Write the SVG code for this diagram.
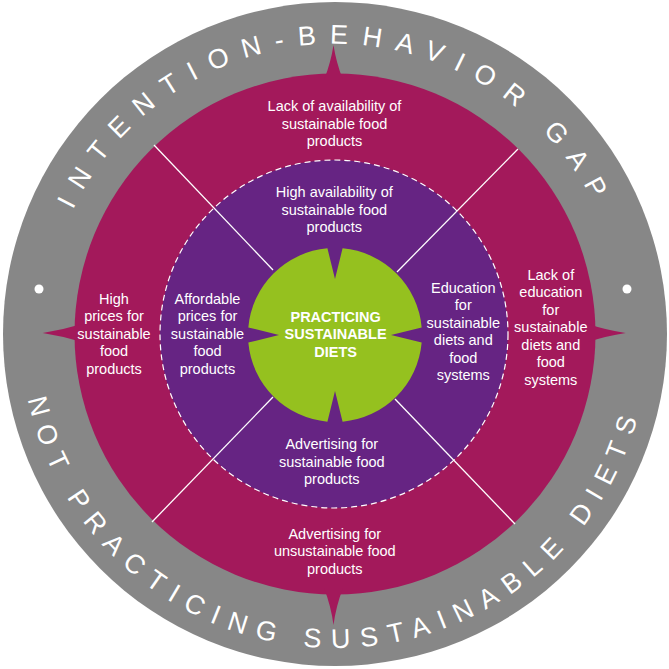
<svg xmlns="http://www.w3.org/2000/svg" xmlns:xlink="http://www.w3.org/1999/xlink" width="669" height="669" viewBox="0 0 669 669">
  <defs>
    <style>
      .lbl { font-family: "Liberation Sans", Arial, sans-serif; font-size: 14.5px; fill: #ffffff; text-anchor: middle; }
      .ctr { font-family: "Liberation Sans", Arial, sans-serif; font-size: 14.5px; font-weight: bold; fill: #ffffff; text-anchor: middle; }
      .ring { font-family: "Liberation Sans", Arial, sans-serif; font-size: 27px; fill: #ffffff; }
      .div { stroke: #ffffff; stroke-width: 1.3; fill: none; }
      .mag { fill: #a3195b; }
    </style>
    <path id="arcTop" d="M 45 334 A 290 290 0 0 1 625 334"/>
    <path id="arcBottom" d="M 21 334 A 314 314 0 0 0 649 334"/>
  </defs>

  <g id="outer-ring">
    <circle cx="335" cy="334" r="332" fill="#878787"/>
    <circle cx="39" cy="289" r="4.5" fill="#ffffff"/>
    <circle cx="627" cy="289" r="4.5" fill="#ffffff"/>
    <text class="ring" letter-spacing="13.6"><textPath xlink:href="#arcTop" startOffset="456" text-anchor="middle">INTENTION-BEHAVIOR GAP</textPath></text>
    <text class="ring" letter-spacing="10.5"><textPath xlink:href="#arcBottom" startOffset="488" text-anchor="middle">NOT PRACTICING SUSTAINABLE DIETS</textPath></text>
  </g>

  <g id="barriers-ring">
    <circle cx="335" cy="334" r="260.5" class="mag"/>
    <path class="mag" d="M 324 80 Q 331 62 333.5 45 Q 336 62 343 80 Z"/>
    <path class="mag" d="M 324 588 Q 331 606 333.5 625 Q 336 606 343 588 Z"/>
    <path class="mag" d="M 82 324 Q 62 330 42.7 333 Q 62 336 82 342 Z"/>
    <path class="mag" d="M 588 324 Q 606 330 625.7 333 Q 606 336 588 342 Z"/>
  </g>

  <g id="enablers-ring">
    <circle cx="334" cy="334" r="174" fill="#662483" stroke="#ffffff" stroke-width="1.2" stroke-dasharray="6 4"/>
  </g>

  <g id="connectors">
    <line class="div" x1="154" y1="145" x2="273" y2="270"/>
    <line class="div" x1="518" y1="149" x2="397" y2="272"/>
    <line class="div" x1="152" y1="522" x2="273" y2="397"/>
    <line class="div" x1="515" y1="524" x2="395" y2="399"/>
  </g>

  <g id="center">
    <path fill="#95c11f" d="M 342.58 248.33 A 87 87 0 0 1 421.67 327.42 L 391 335 L 421.67 342.58 A 87 87 0 0 1 342.58 421.67 L 335 391 L 327.42 421.67 A 87 87 0 0 1 248.33 342.58 L 279 335 L 248.33 327.42 A 87 87 0 0 1 327.42 248.33 L 335 279 Z"/>
    <text class="ctr" x="335.6" y="321.6">PRACTICING</text>
    <text class="ctr" x="335.6" y="339.1">SUSTAINABLE</text>
    <text class="ctr" x="335.6" y="356.6">DIETS</text>
  </g>

  <g id="barrier-availability">
    <text class="lbl" x="334.5" y="111">Lack of availability of</text>
    <text class="lbl" x="334.5" y="128.5">sustainable food</text>
    <text class="lbl" x="334.5" y="146">products</text>
  </g>

  <g id="barrier-prices">
    <text class="lbl" x="114" y="303.5">High</text>
    <text class="lbl" x="114" y="321">prices for</text>
    <text class="lbl" x="114" y="338.5">sustainable</text>
    <text class="lbl" x="114" y="356">food</text>
    <text class="lbl" x="114" y="373.5">products</text>
  </g>

  <g id="barrier-education">
    <text class="lbl" x="550.8" y="279.5">Lack of</text>
    <text class="lbl" x="550.8" y="297">education</text>
    <text class="lbl" x="550.8" y="314.5">for</text>
    <text class="lbl" x="550.8" y="332">sustainable</text>
    <text class="lbl" x="550.8" y="349.5">diets and</text>
    <text class="lbl" x="550.8" y="367">food</text>
    <text class="lbl" x="550.8" y="384.5">systems</text>
  </g>

  <g id="barrier-advertising">
    <text class="lbl" x="334.8" y="538.7">Advertising for</text>
    <text class="lbl" x="334.8" y="556.2">unsustainable food</text>
    <text class="lbl" x="334.8" y="573.7">products</text>
  </g>

  <g id="enabler-availability">
    <text class="lbl" x="334.3" y="197">High availability of</text>
    <text class="lbl" x="334.3" y="214.5">sustainable food</text>
    <text class="lbl" x="334.3" y="232">products</text>
  </g>

  <g id="enabler-prices">
    <text class="lbl" x="207.5" y="303.5">Affordable</text>
    <text class="lbl" x="207.5" y="321">prices for</text>
    <text class="lbl" x="207.5" y="338.5">sustainable</text>
    <text class="lbl" x="207.5" y="356">food</text>
    <text class="lbl" x="207.5" y="373.5">products</text>
  </g>

  <g id="enabler-education">
    <text class="lbl" x="463.3" y="292.5">Education</text>
    <text class="lbl" x="463.3" y="310">for</text>
    <text class="lbl" x="463.3" y="327.5">sustainable</text>
    <text class="lbl" x="463.3" y="345">diets and</text>
    <text class="lbl" x="463.3" y="362.5">food</text>
    <text class="lbl" x="463.3" y="380">systems</text>
  </g>

  <g id="enabler-advertising">
    <text class="lbl" x="331.8" y="449">Advertising for</text>
    <text class="lbl" x="331.8" y="466.5">sustainable food</text>
    <text class="lbl" x="331.8" y="484">products</text>
  </g>
</svg>
